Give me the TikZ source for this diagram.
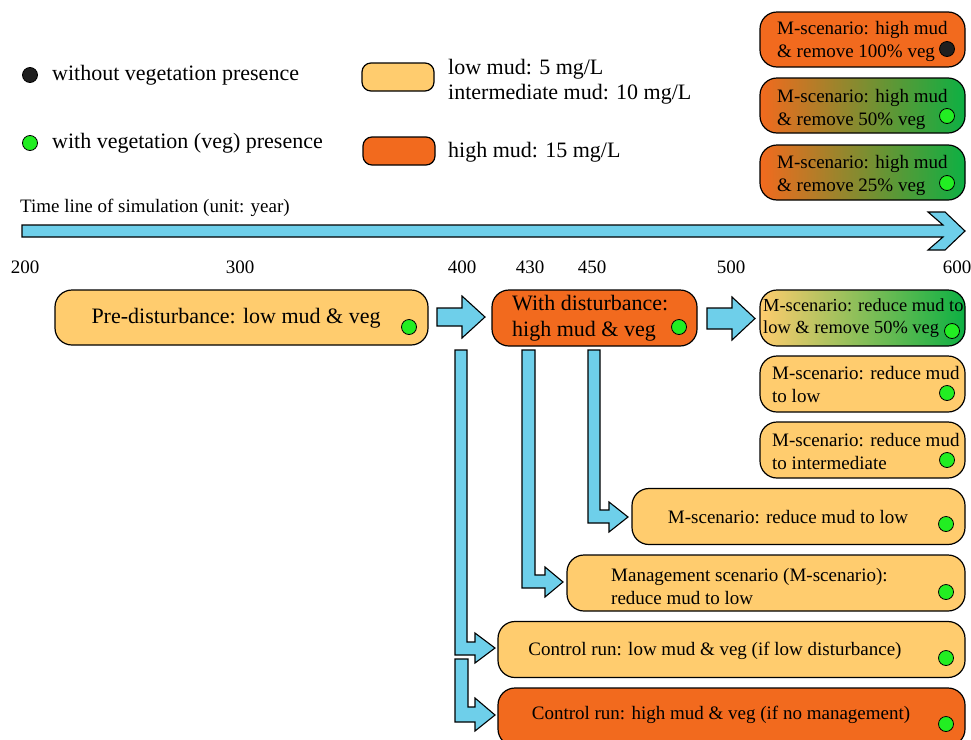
\documentclass[tikz,border=0pt]{standalone}
\usepackage{fontspec}
\setmainfont{Liberation Serif}
\definecolor{lo}{HTML}{FFCC6E}
\definecolor{ho}{HTML}{F26A1E}
\definecolor{gr}{HTML}{0DB043}
\definecolor{ab}{HTML}{6ECFEA}
\definecolor{dg}{HTML}{22EE22}
\begin{document}
\begin{tikzpicture}[x=1pt,y=-1pt, font=\fontsize{19}{23}\selectfont,
 box/.style={draw=black, line width=1.2pt, rounded corners=17pt, inner sep=0pt},
 lbox/.style={box, fill=lo}, hbox/.style={box, fill=ho},
 gbox/.style={box, left color=ho, right color=gr},
 lgbox/.style={box, left color=lo, right color=gr},
 vdot/.style={circle, draw=black, line width=0.8pt, fill=dg, minimum size=15pt, inner sep=0pt},
 bdot/.style={vdot, fill=black!88},
 barrow/.style={draw=black, line width=1.1pt, fill=ab, line join=miter},
 txt/.style={inner sep=0pt, align=left, anchor=west},
 ctxt/.style={inner sep=0pt, align=center},
 big/.style={font=\fontsize{22}{25}\selectfont},
 bigb/.style={font=\fontsize{22}{26}\selectfont}]
\useasboundingbox (0,0) rectangle (971,739);
% legend
\node[bdot] (ld1) at (30,75) {};
\node[txt, big] (lt1) at (52,75) {without vegetation presence};
\node[vdot] (ld2) at (30,143) {};
\node[txt, big] (lt2) at (52,143) {with vegetation (veg) presence};
\node[lbox, rounded corners=9pt, minimum width=72pt, minimum height=28pt] (lb1) at (398,77) {};
\node[txt, big] (lt3) at (448,81.5) {low mud: 5 mg/L\\intermediate mud: 10 mg/L};
\node[hbox, rounded corners=9pt, minimum width=72pt, minimum height=28pt] (lb2) at (399,151) {};
\node[txt, big] (lt4) at (448,152) {high mud: 15 mg/L};
% top right scenario boxes
\node[hbox, minimum width=205pt, minimum height=55pt] (s1) at (862.5,39.5) {};
\node[txt] at (777,41) {M-scenario: high mud\\\& remove 100\% veg};
\node[bdot] (s1d) at (947,49) {};
\node[gbox, minimum width=205pt, minimum height=55pt] (s2) at (862.5,105.5) {};
\node[txt] at (777,109.5) {M-scenario: high mud\\\& remove 50\% veg};
\node[vdot] (s2d) at (947,116) {};
\node[gbox, minimum width=205pt, minimum height=55pt] (s3) at (862.5,172.5) {};
\node[txt] at (777,175) {M-scenario: high mud\\\& remove 25\% veg};
\node[vdot] (s3d) at (947,183) {};
% timeline
\node[txt] (tl) at (20,208) {Time line of simulation (unit: year)};
\draw[barrow] (22,225) -- (943,225) -- (928,212) -- (945,212) -- (965,231) -- (945,250) -- (928,250) -- (943,237) -- (22,237) -- cycle;
\foreach \t/\x in {200/25,300/240,400/462,430/530,450/592,500/731,600/957}
  \node[ctxt] (y\t) at (\x,267) {\t};
% main boxes
\node[lbox, minimum width=373pt, minimum height=55pt] (pre) at (241.5,317.5) {};
\node[ctxt, bigb] at (236,318) {Pre-disturbance: low mud \& veg};
\node[vdot] (pred) at (409,327) {};
\node[hbox, minimum width=205pt, minimum height=56pt] (dist) at (594.5,318) {};
\node[txt, bigb] at (512,318.5) {With disturbance:\\high mud \& veg};
\node[vdot] (distd) at (679,327) {};
\node[lgbox, minimum width=205pt, minimum height=56pt] (m1) at (862.5,318) {};
\node[txt, font=\fontsize{18.4}{22}\selectfont] at (763,318) {M-scenario: reduce mud to\\low \& remove 50\% veg};
\node[vdot] (m1d) at (952,331) {};
\node[lbox, minimum width=205pt, minimum height=56pt] (m2) at (862.5,384) {};
\node[txt] at (772,384.5) {M-scenario: reduce mud\\to low};
\node[vdot] (m2d) at (947,393) {};
\node[lbox, minimum width=205pt, minimum height=56pt] (m3) at (862.5,450) {};
\node[txt] at (772,451) {M-scenario: reduce mud\\to intermediate};
\node[vdot] (m3d) at (947,460) {};
\node[lbox, minimum width=333pt, minimum height=56pt] (m4) at (798.5,516.5) {};
\node[ctxt] at (788,517) {M-scenario: reduce mud to low};
\node[vdot] (m4d) at (946,524) {};
\node[lbox, minimum width=398pt, minimum height=56pt] (m5) at (766,583) {};
\node[txt] at (611,586) {Management scenario (M-scenario):\\reduce mud to low};
\node[vdot] (m5d) at (946,592) {};
\node[lbox, minimum width=467pt, minimum height=56pt] (c1) at (731.5,649.5) {};
\node[ctxt] at (715,651) {Control run: low mud \& veg (if low disturbance)};
\node[vdot] (c1d) at (946,658) {};
\node[hbox, minimum width=467pt, minimum height=58pt] (c2) at (731.5,717) {};
\node[ctxt] at (721,715) {Control run: high mud \& veg (if no management)};
\node[vdot] (c2d) at (946,724) {};
% block arrows
\draw[barrow] (437,308) -- (462,308) -- (462,296) -- (485,317) -- (462,338) -- (462,326) -- (437,326) -- cycle;
\draw[barrow] (707,308) -- (732,308) -- (732,297) -- (755,318.5) -- (732,340) -- (732,329) -- (707,329) -- cycle;
% L arrows
\draw[barrow] (455,350) -- (467,350) -- (467,642) -- (475,642) -- (475,633) -- (495,648) -- (475,663) -- (475,655) -- (455,655) -- cycle;
\draw[barrow] (455,659) -- (468,659) -- (468,707) -- (475,707) -- (475,698) -- (495,715) -- (475,731) -- (475,722) -- (455,722) -- cycle;
\draw[barrow] (522,350) -- (535,350) -- (535,575) -- (545,575) -- (545,567) -- (563,582) -- (545,597) -- (545,588) -- (522,588) -- cycle;
\draw[barrow] (588,350) -- (600,350) -- (600,510) -- (609,510) -- (609,502) -- (628,517) -- (609,532) -- (609,523) -- (588,523) -- cycle;
\end{tikzpicture}
\end{document}
